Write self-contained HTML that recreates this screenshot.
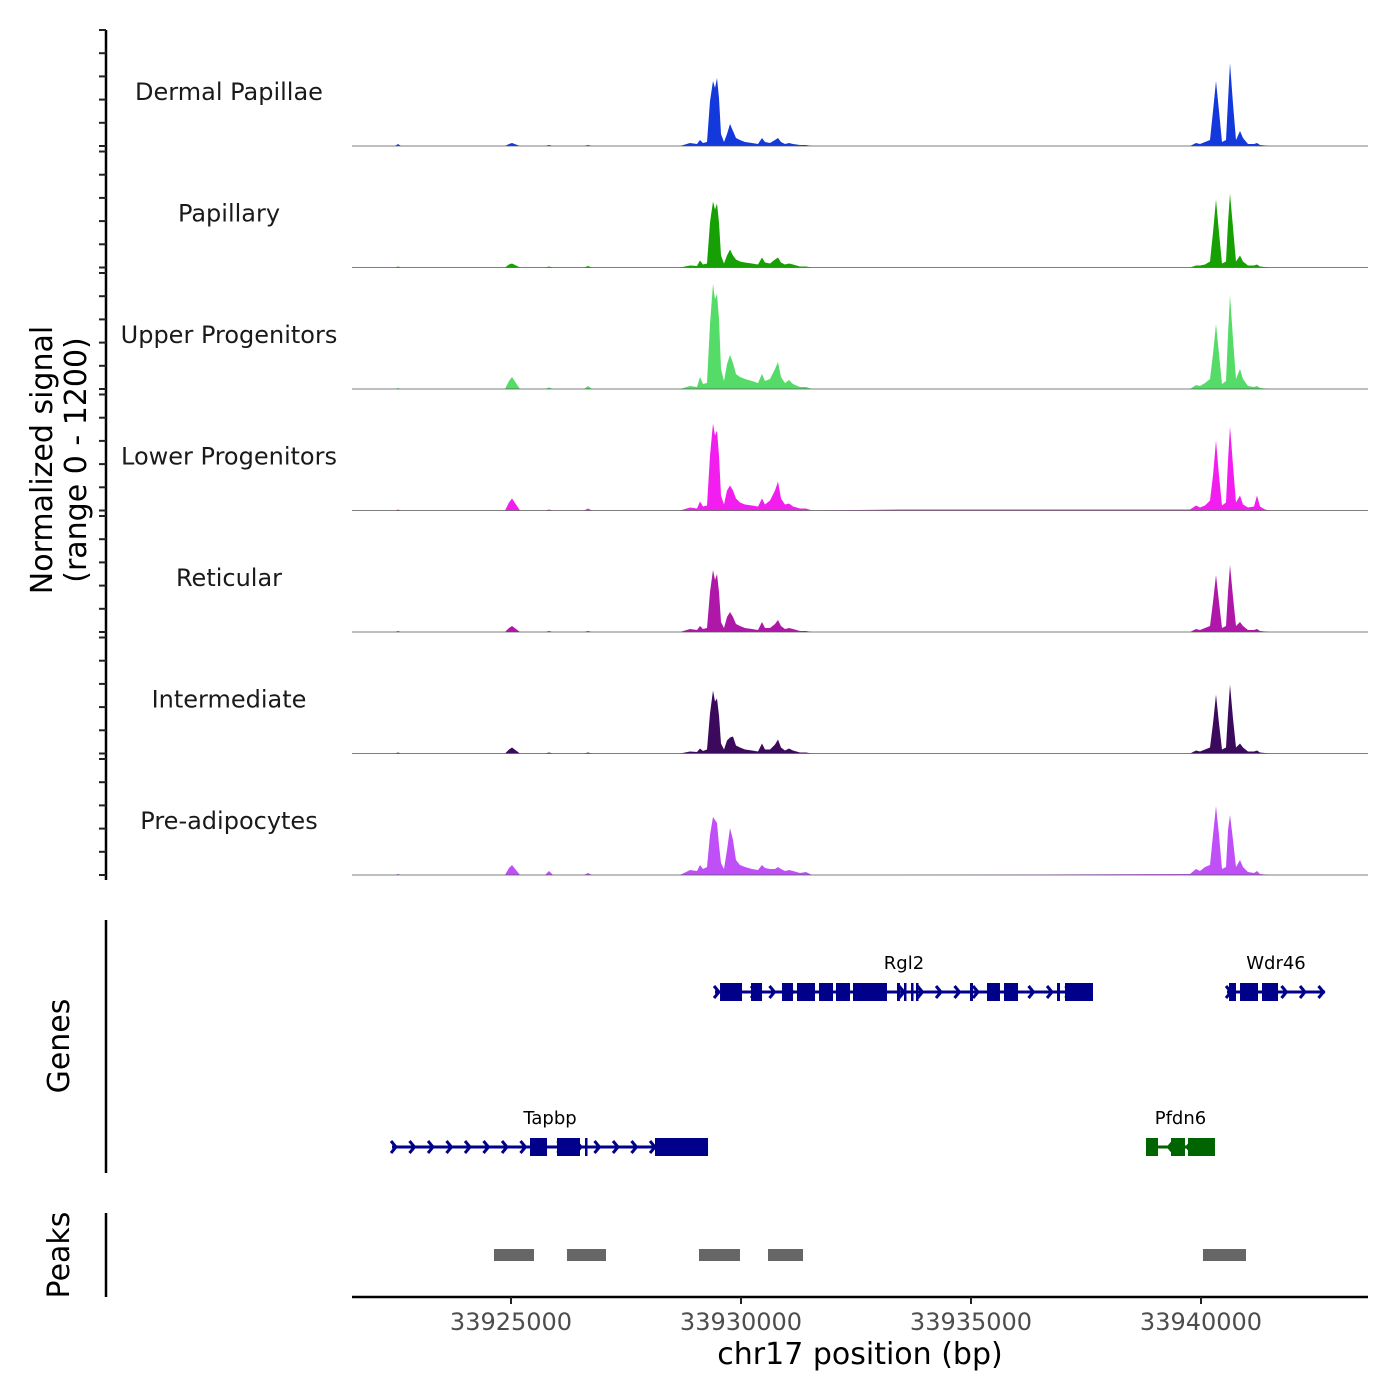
<!DOCTYPE html>
<html><head><meta charset="utf-8"><style>
html,body{margin:0;padding:0;background:#fff;}
svg{display:block;font-family:"DejaVu Sans","Liberation Sans",sans-serif;}
</style></head><body>
<svg id="chart" width="1400" height="1400" viewBox="0 0 1400 1400" xmlns="http://www.w3.org/2000/svg">
<g id="tracks"></g>
<g id="yaxis"></g>
<g id="genes"></g>
<g id="peaks"></g>
<g id="xaxis"></g>
<text transform="translate(52,460) rotate(-90)" text-anchor="middle" font-size="30" fill="#000">Normalized signal</text>
<text transform="translate(86,460) rotate(-90)" text-anchor="middle" font-size="30" fill="#000">(range 0 - 1200)</text>
<text transform="translate(69,1046) rotate(-90)" text-anchor="middle" font-size="30" fill="#000">Genes</text>
<text transform="translate(69,1255) rotate(-90)" text-anchor="middle" font-size="30" fill="#000">Peaks</text>
<text x="860" y="1364" text-anchor="middle" font-size="30" fill="#000">chr17 position (bp)</text>
</svg>
<script>
const positions=[33921543,33922478,33922543,33922609,33924870,33924957,33925022,33925109,33925196,33925739,33925826,33925913,33926587,33926674,33926761,33928674,33928891,33929043,33929109,33929174,33929261,33929326,33929391,33929435,33929478,33929522,33929565,33929630,33929696,33929761,33929826,33929891,33929978,33930087,33930239,33930370,33930457,33930522,33930630,33930739,33930804,33930870,33930957,33931043,33931130,33931283,33931413,33931543,33933457,33939761,33939891,33939978,33940087,33940196,33940261,33940326,33940391,33940457,33940543,33940587,33940630,33940696,33940761,33940848,33940913,33941022,33941152,33941217,33941283,33941391,33941500,33943630];
const trackNames=["Dermal Papillae","Papillary","Upper Progenitors","Lower Progenitors","Reticular","Intermediate","Pre-adipocytes"];
const trackColors=["#1339dc","#17a003","#55dc68","#f21ef0","#ae17a8","#3b0a5c","#bf50f7"];
const dermal=[0,0,20,0,0,20,30,15,0,0,10,0,0,10,0,0,30,20,60,30,40,450,650,580,680,480,120,40,120,220,150,80,60,40,30,20,80,40,30,60,80,40,20,30,20,10,10,0,0,0,30,20,40,60,350,650,350,40,60,450,830,420,60,150,80,20,20,30,10,5,0,0];
const papillary=[0,0,10,0,0,30,40,20,0,0,10,0,0,15,0,0,20,15,70,30,40,450,660,580,640,450,120,40,120,180,120,80,60,50,40,30,100,50,40,80,100,50,30,40,30,10,10,0,0,0,20,20,30,60,350,680,350,40,60,450,740,400,60,120,60,20,20,30,10,5,0,0];
const upper=[0,0,10,0,0,80,120,60,0,0,15,0,0,30,0,0,30,20,120,50,60,650,1050,900,950,700,200,80,250,340,260,150,120,100,80,60,150,80,100,200,270,120,60,90,50,20,20,0,0,0,40,30,60,100,350,650,350,50,80,550,940,500,100,200,100,30,20,30,10,5,0,0];
const lower=[0,0,10,0,0,80,120,60,0,0,10,0,0,20,0,0,30,20,90,40,50,550,870,750,800,550,150,60,200,250,200,120,80,60,50,40,120,60,100,200,290,120,60,70,40,20,20,0,10,10,50,30,50,100,350,700,350,50,80,500,840,450,80,150,60,30,40,150,40,10,0,0];
const reticular=[0,0,10,0,0,40,60,30,0,0,10,0,0,10,0,0,30,20,60,30,40,400,620,520,580,400,100,40,150,200,150,80,60,40,30,20,100,40,40,80,120,60,30,40,30,10,10,0,0,0,30,20,40,60,300,570,300,40,60,400,670,350,60,100,60,20,20,30,10,5,0,0];
const intermediate=[0,0,10,0,0,40,60,30,0,0,10,0,0,10,0,0,20,15,50,25,40,400,630,520,550,380,100,40,130,160,170,80,60,40,30,20,100,40,40,90,140,60,30,50,30,10,10,0,0,0,30,20,40,60,300,590,300,40,60,400,690,350,60,100,60,20,20,30,10,5,0,0];
const preadipocytes=[0,0,10,0,0,70,100,50,0,0,40,0,0,20,0,0,50,40,100,60,80,400,580,550,520,300,120,60,250,470,350,150,100,80,60,50,100,70,60,60,80,60,40,50,40,20,30,0,0,10,60,40,80,100,400,690,400,60,80,450,600,350,80,150,80,30,20,40,10,5,0,0];
const series=[dermal,papillary,upper,lower,reticular,intermediate,preadipocytes];
const xTicks=[33925000,33930000,33935000,33940000];
const geneNames=["Rgl2","Wdr46","Tapbp","Pfdn6"];
const geneStarts=[33929435,33940565,33922413,33938804];
const geneEnds=[33937652,33942696,33929283,33940304];
const geneStrands=[1,1,1,-1];
const geneRows=[0,0,1,1];
const geneExons=[
 [[33929544,33930022],[33930218,33930457],[33930891,33931130],[33931217,33931609],[33931696,33932000],[33932065,33932370],[33932435,33933174],[33933391,33933457],[33933543,33933587],[33933696,33933739],[33933804,33933848],[33934978,33935043],[33935348,33935630],[33935717,33936022],[33936870,33936935],[33937043,33937652]],
 [[33940609,33940761],[33940848,33941239],[33941326,33941674]],
 [[33925413,33925783],[33926000,33926500],[33926609,33926652],[33928130,33929283]],
 [[33938804,33939065],[33939348,33939652],[33939717,33940304]]
];
const peakStarts=[33924630,33926217,33929087,33930587,33940043];
const peakEnds=[33925500,33927065,33929978,33931348,33940978];

const NS="http://www.w3.org/2000/svg";
function mk(tag,attrs,parent){const e=document.createElementNS(NS,tag);for(const k in attrs)e.setAttribute(k,attrs[k]);parent.appendChild(e);return e;}
const X0=352,X1=1368;
function xs(bp){return 511+(bp-33925000)*0.046;}
const baselines=[146,267.5,389,510.5,632,753.5,875];
function ys(v,i){return baselines[i]-v*0.1;}

const tg=document.getElementById('tracks');
series.forEach((vals,i)=>{
  const g=mk('g',{},tg);
  
  
  let d='M'+xs(positions[0])+','+baselines[i];
  positions.forEach((p,j)=>{d+=' L'+xs(p).toFixed(1)+','+ys(vals[j],i).toFixed(1);});
  d+=' L'+xs(positions[positions.length-1])+','+baselines[i]+' Z';
  const a=mk('path',{d:d,fill:trackColors[i],stroke:'none'},g);
  
  
  const bl=mk('line',{x1:X0,x2:X1,y1:baselines[i],y2:baselines[i],stroke:'#555','stroke-width':0.8},g);
  
  
  const t=mk('text',{x:229,y:baselines[i]-46,'text-anchor':'middle','font-size':24,fill:'#1a1a1a'},g);
  t.textContent=trackNames[i];
  
  
});

const ya=document.getElementById('yaxis');
mk('line',{x1:106,x2:106,y1:30,y2:880,stroke:'#000','stroke-width':2.5},ya);
baselines.forEach((b,i)=>{
  for(let k=0;k<6;k++){
    const y=b-k*23.2;
    const tk=mk('line',{x1:99,x2:106,y1:y,y2:y,stroke:'#222','stroke-width':2},ya);
    
    
  }
});
mk('line',{x1:106,x2:106,y1:920,y2:1173,stroke:'#000','stroke-width':2.5},ya);
mk('line',{x1:106,x2:106,y1:1213,y2:1297,stroke:'#000','stroke-width':2.5},ya);

const gg=document.getElementById('genes');
const rowY=[992,1147];
geneNames.forEach((n,i)=>{
  const col=geneStrands[i]>0?'#00008b':'#006400';
  const g=mk('g',{},gg);
  
  
  const y=rowY[geneRows[i]];
  const a=xs(geneStarts[i]),b=xs(geneEnds[i]);
  mk('line',{x1:a,x2:b,y1:y,y2:y,stroke:col,'stroke-width':3},g);
  for(let x=a+4;x<=b+1;x+=18.5){
    const s=geneStrands[i];
    mk('polyline',{points:(x-5*s)+','+(y-6)+' '+x+','+y+' '+(x-5*s)+','+(y+6),fill:'none',stroke:col,'stroke-width':3},g);
  }
  geneExons[i].forEach(e=>{
    const r=mk('rect',{x:xs(e[0]),y:y-9,width:Math.max(2.5,xs(e[1])-xs(e[0])),height:18,fill:col},g);
    
    
  });
  const t=mk('text',{x:(a+b)/2,y:y-23,'text-anchor':'middle','font-size':18,fill:'#000'},g);
  t.textContent=n;
  
  
});

const pg=document.getElementById('peaks');
peakStarts.forEach((s,i)=>{
  const r=mk('rect',{x:xs(s),y:1249,width:xs(peakEnds[i])-xs(s),height:12,fill:'#666'},pg);
  
  
});

const xa=document.getElementById('xaxis');
mk('line',{x1:X0,x2:X1,y1:1297,y2:1297,stroke:'#000','stroke-width':2.5},xa);
xTicks.forEach(v=>{
  const x=xs(v);
  mk('line',{x1:x,x2:x,y1:1297,y2:1304,stroke:'#222','stroke-width':2},xa);
  const t=mk('text',{x:x,y:1330,'text-anchor':'middle','font-size':24,fill:'#4d4d4d'},xa);
  t.textContent=String(v);
  
  
});
</script>
</body></html>
